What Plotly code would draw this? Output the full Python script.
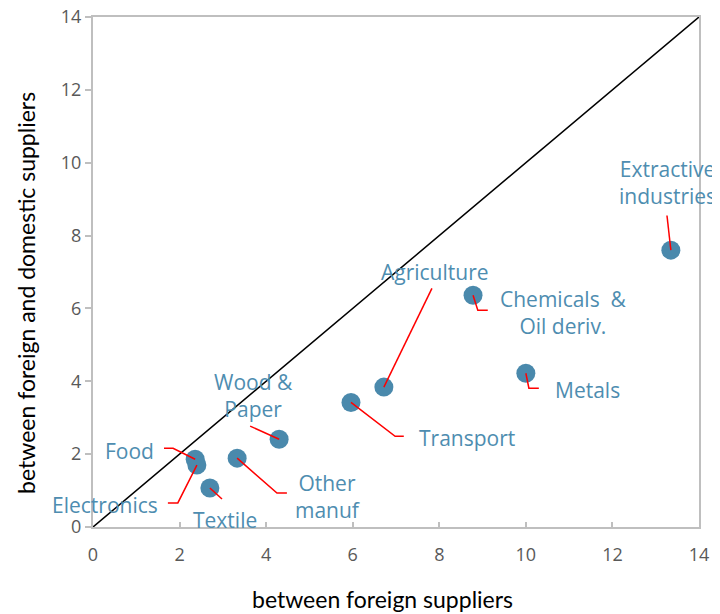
import plotly.graph_objects as go

# sector values: price dispersion between suppliers
sectors = ["Extractive<br>industries", "Chemicals  &<br>Oil deriv.", "Metals", "Agriculture",
           "Transport", "Wood &<br>Paper", "Other<br>manuf", "Food", "Electronics", "Textile"]
foreign = [13.35, 8.78, 10.0, 6.72, 5.96, 4.30, 3.33, 2.36, 2.40, 2.70]
foreign_domestic = [7.60, 6.36, 4.22, 3.84, 3.42, 2.41, 1.89, 1.86, 1.70, 1.07]

# label placement (data units) and leader waypoints going out from each point
label_pos = [(13.28, 9.45), (10.86, 5.89), (11.43, 3.75), (7.90, 6.99), (8.64, 2.44),
             (3.70, 3.62), (5.43, 0.85), (0.85, 2.08), (0.28, 0.60), (3.05, 0.19)]
leaders = [
    [(13.26, 8.55)],
    [(8.89, 5.95), (9.12, 5.95)],
    [(10.07, 3.81), (10.30, 3.81)],
    [(7.83, 6.55)],
    [(6.98, 2.49), (7.18, 2.49)],
    [(3.63, 2.77)],
    [(4.25, 0.93), (4.48, 0.93)],
    [(1.85, 2.16), (1.64, 2.16)],
    [(1.96, 0.66), (1.73, 0.66)],
    [(2.98, 0.77)],
]

MARKER = "#4A89AC"
TEXT = "#4E8DB0"
AXIS = "#BFBFBF"
TICK = "#595959"

fig = go.Figure()

# 45 degree reference line
fig.add_trace(go.Scatter(x=[0, 14], y=[0, 14], mode="lines",
                         line=dict(color="black", width=1.5), hoverinfo="skip"))

fig.add_trace(go.Scatter(x=foreign, y=foreign_domestic, mode="markers",
                         marker=dict(color=MARKER, size=19), text=sectors))

for xi, yi, pts in zip(foreign, foreign_domestic, leaders):
    fig.add_trace(go.Scatter(x=[xi] + [p[0] for p in pts], y=[yi] + [p[1] for p in pts],
                             mode="lines", line=dict(color="red", width=1.5), hoverinfo="skip"))

for name, (lx, ly) in zip(sectors, label_pos):
    fig.add_annotation(x=lx, y=ly, text=name, showarrow=False, align="center",
                       font=dict(family="Open Sans", size=21, color=TEXT))

# axis titles
fig.add_annotation(text="between foreign suppliers", xref="paper", yref="paper",
                   x=0.477, y=0, yshift=-72, xanchor="center", yanchor="middle",
                   showarrow=False, font=dict(family="Lato", size=23, color="black"))
fig.add_annotation(text="between foreign and domestic suppliers", xref="paper", yref="paper",
                   x=0, y=0.459, xshift=-67, xanchor="center", yanchor="middle",
                   textangle=-90, showarrow=False,
                   font=dict(family="Lato", size=23, color="black"))

# page body has an 8px margin, so the figure is sized to fit the window
fig.update_layout(
    width=712, height=606, showlegend=False,
    plot_bgcolor="white", paper_bgcolor="white",
    margin=dict(l=85, r=21, t=9, b=87),
    font=dict(family="Open Sans", color=TICK),
)
fig.update_xaxes(range=[0, 14], dtick=2, showgrid=False, zeroline=False, automargin=False,
                 showline=True, linecolor=AXIS, linewidth=2, mirror=True,
                 ticks="inside", ticklen=5, tickcolor=AXIS, tickwidth=2,
                 ticklabelstandoff=10, ticklabeloverflow="allow",
                 tickfont=dict(size=18, color=TICK))
fig.update_yaxes(range=[0, 14], dtick=2, showgrid=False, zeroline=False, automargin=False,
                 showline=True, linecolor=AXIS, linewidth=2, mirror=True,
                 ticks="outside", ticklen=6, tickcolor=AXIS, tickwidth=2,
                 ticklabeloverflow="allow",
                 tickfont=dict(size=18, color=TICK))

fig.write_html("out.html")
